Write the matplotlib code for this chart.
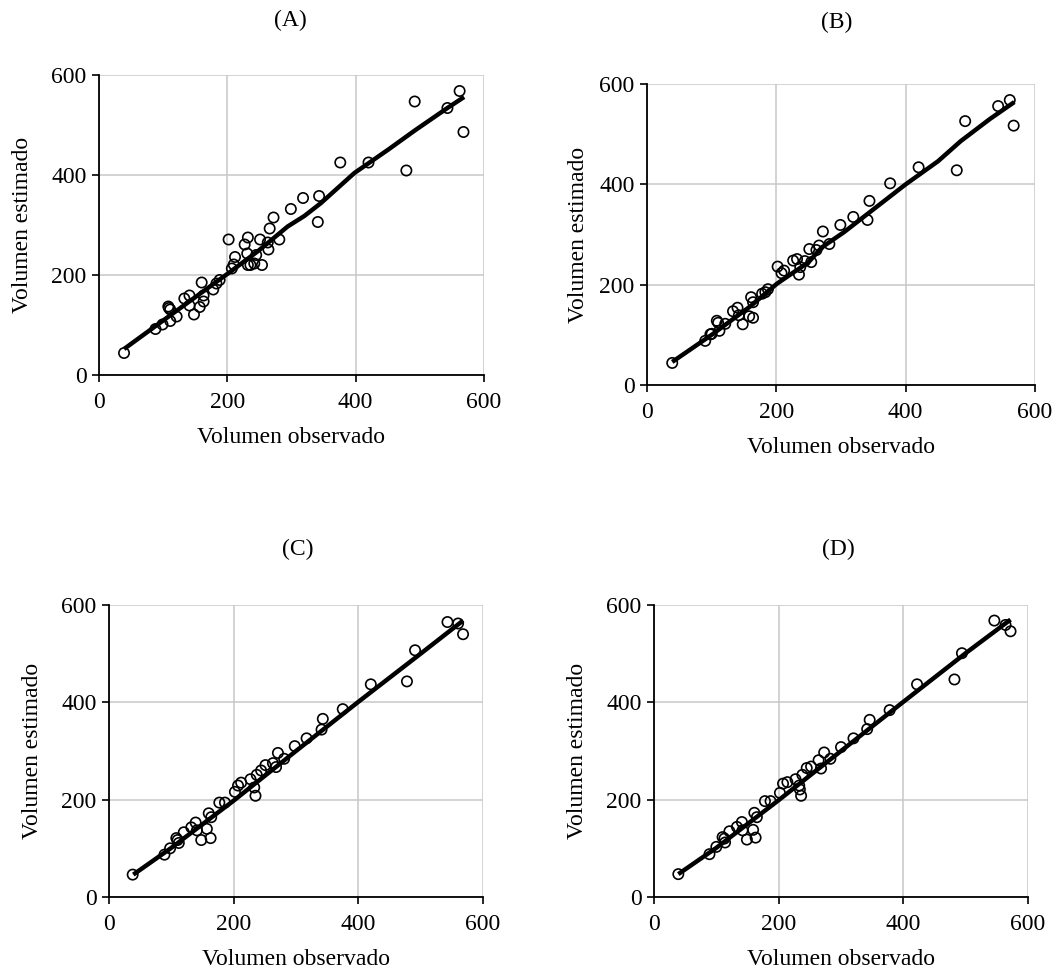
import matplotlib
matplotlib.use("Agg")
import matplotlib.pyplot as plt

plt.rcParams['font.family'] = ['Liberation Serif', 'DejaVu Serif']

# ---------------- data ----------------
obs_A = [39, 88, 99, 111, 108, 109, 111, 121, 133, 141, 141, 148, 157, 160, 163, 163, 178, 183, 188,
         202, 207, 210, 212, 227, 232, 231, 232, 236, 242, 245, 251, 254, 263, 264, 266, 272, 281,
         299, 318, 341, 343, 376, 420, 479, 492, 543, 562, 568]
est_A = [44, 92, 101, 108, 137, 134, 131, 117, 153, 159, 139, 121, 136, 185, 159, 147, 171, 183, 190,
         271, 213, 221, 236, 261, 275, 243, 220, 220, 223, 240, 271, 220, 265, 251, 293, 315, 271,
         332, 354, 306, 358, 425, 425, 409, 547, 534, 568, 486]
fit_x_A = [39, 100, 160, 201, 248, 294, 320, 346, 398, 451, 491, 543, 569]
fit_y_A = [52, 109, 165, 203, 248, 297, 318, 344, 404, 451, 488, 534, 556]

obs_B = [39, 90, 98, 100, 108, 110, 112, 121, 133, 140, 142, 148, 158, 164, 161, 164, 178, 183, 187,
         202, 208, 212, 226, 232, 235, 237, 244, 254, 251, 262, 266, 272, 282, 299, 319, 341, 344,
         376, 420, 479, 492, 543, 561, 567]
est_B = [44, 88, 101, 102, 128, 124, 108, 122, 147, 154, 139, 121, 137, 134, 175, 165, 182, 185, 191,
         236, 223, 228, 248, 251, 220, 235, 247, 245, 271, 269, 278, 306, 281, 319, 335, 329, 367,
         402, 434, 428, 526, 556, 568, 517]
fit_x_B = [39, 100, 160, 201, 250, 270, 305, 341, 400, 450, 485, 530, 568]
fit_y_B = [46, 100, 157, 202, 245, 274, 305, 341, 400, 446, 486, 530, 564]

obs_C = [38, 89, 98, 108, 110, 112, 120, 132, 139, 141, 148, 157, 163, 160, 164, 177, 186,
         202, 207, 212, 227, 233, 235, 237, 244, 251, 263, 268, 271, 281, 298, 317, 341, 343,
         375, 420, 478, 491, 543, 560, 568]
est_C = [46, 87, 100, 121, 117, 111, 133, 143, 153, 137, 117, 140, 121, 172, 164, 194, 194,
         216, 229, 235, 242, 225, 208, 251, 260, 271, 275, 267, 296, 284, 310, 326, 344, 366,
         386, 437, 443, 507, 565, 562, 540]
fit_x_C = [39, 100, 200, 300, 400, 500, 568]
fit_y_C = [46, 101, 198, 300, 401, 500, 568]

obs_D = [39, 89, 100, 110, 113, 114, 121, 133, 141, 142, 149, 159, 163, 161, 165, 178, 187,
         202, 207, 214, 227, 233, 234, 236, 238, 245, 252, 264, 268, 273, 283, 300, 320, 342, 346,
         378, 422, 482, 494, 546, 564, 572]
est_D = [47, 88, 103, 123, 120, 112, 135, 144, 154, 137, 118, 138, 122, 173, 164, 197, 197,
         214, 233, 236, 242, 229, 221, 208, 251, 265, 268, 281, 264, 297, 284, 308, 326, 345, 364,
         384, 437, 447, 501, 568, 559, 546]
fit_x_D = [39, 100, 200, 300, 400, 500, 572]
fit_y_D = [47, 101, 199, 300, 401, 501, 570]

titles = ["(A)", "(B)", "(C)", "(D)"]
ticks = [0, 200, 400, 600]
xlabel = "Volumen observado"
ylabel = "Volumen estimado"

panels = [(obs_A, est_A, fit_x_A, fit_y_A),
          (obs_B, est_B, fit_x_B, fit_y_B),
          (obs_C, est_C, fit_x_C, fit_y_C),
          (obs_D, est_D, fit_x_D, fit_y_D)]

# ---------------- layout (pixels) ----------------
W, H = 1060, 969
boxes = [(99, 484, 75, 375), (647, 1035, 84, 385), (109, 483, 605, 897), (654, 1028, 605, 897)]
title_pos = [(290, 20), (837, 22), (298, 549), (838, 549)]
ylabel_pad = [13, 7, 13, 13]

fig = plt.figure(figsize=(W / 100, H / 100), dpi=100)
for i, (ox, ey, fx, fy) in enumerate(panels):
    l, r, t, b = boxes[i]
    ax = fig.add_axes([l / W, 1 - b / H, (r - l) / W, (b - t) / H])
    ax.set_xlim(0, 600)
    ax.set_ylim(0, 600)
    ax.set_xticks(ticks)
    ax.set_yticks(ticks)
    ax.grid(True, color='#c8c8c8', linewidth=1.1)
    ax.set_axisbelow(True)
    for s in ['top', 'right']:
        ax.spines[s].set_visible(False)
    for s in ['left', 'bottom']:
        ax.spines[s].set_linewidth(1.3)
        ax.spines[s].set_color('black')
    ax.tick_params(direction='out', length=5, width=1.2, labelsize=17)
    ax.tick_params(axis='x', pad=7)
    ax.tick_params(axis='y', pad=4)
    ax.scatter(ox, ey, s=55, facecolors='none', edgecolors='black', linewidths=1.2, zorder=3)
    ax.plot(fx, fy, color='black', linewidth=3.2, zorder=4, solid_capstyle='butt')
    ax.set_xlabel(xlabel, fontsize=17, labelpad=10)
    ax.set_ylabel(ylabel, fontsize=17, labelpad=ylabel_pad[i])
    fig.text(title_pos[i][0] / W, 1 - title_pos[i][1] / H, titles[i], fontsize=17,
             ha='center', va='center')

fig.savefig("out.png", dpi=100)
